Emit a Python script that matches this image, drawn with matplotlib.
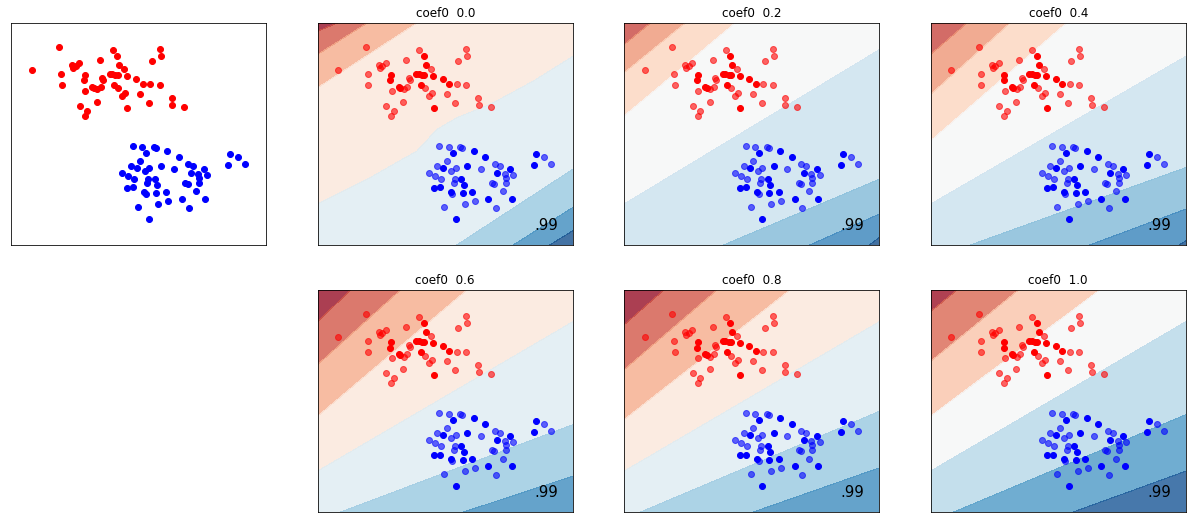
import numpy as np
import matplotlib.pyplot as plt

# point positions (axes units, x 0..770, y 0..668)
red_x = [145, 63, 152, 153, 185, 188, 195, 205, 222, 220, 224, 207, 230, 222, 245, 250,
         260, 258, 268, 270, 275, 278, 307, 320, 297, 305, 315, 322, 311, 323, 327, 341,
         349, 336, 345, 351, 377, 397, 389, 420, 415, 424, 448, 452, 449, 485, 486, 522]
red_y = [595, 526, 516, 481, 543, 533, 538, 548, 513, 495, 462, 418, 403, 388, 475, 473,
         468, 431, 556, 476, 503, 496, 586, 568, 515, 516, 513, 511, 482, 471, 543, 530,
         510, 448, 457, 412, 499, 485, 454, 483, 428, 555, 591, 569, 482, 442, 422, 416]
red_solid = [0, 0, 0, 0, 0, 0, 0, 0, 1, 1, 0, 0, 0, 0, 1, 1,
             0, 0, 0, 0, 0, 0, 0, 1, 1, 1, 1, 1, 1, 0, 1, 0,
             1, 0, 0, 1, 1, 1, 0, 0, 0, 0, 0, 0, 0, 0, 0, 0]

blue_x = [367, 396, 430, 436, 408, 471, 506, 390, 361, 379, 403, 417, 452, 492, 535, 549,
          542, 581, 564, 568, 590, 567, 336, 354, 372, 414, 410, 433, 441, 351, 368, 401,
          406, 438, 467, 526, 533, 514, 474, 444, 382, 537, 558, 585, 416, 660, 684, 654, 705]
blue_y = [297, 296, 296, 292, 276, 284, 264, 254, 238, 231, 223, 231, 237, 228, 244, 238,
          216, 230, 213, 201, 211, 186, 218, 208, 198, 198, 186, 198, 182, 171, 173, 160,
          154, 156, 160, 186, 183, 138, 133, 123, 115, 112, 161, 139, 78, 273, 265, 242, 244]
blue_solid = [0, 0, 0, 0, 1, 1, 1, 0, 0, 1, 0, 0, 1, 0, 0, 0,
              1, 1, 0, 0, 0, 0, 0, 0, 0, 0, 0, 1, 1, 1, 1, 1,
              0, 1, 1, 0, 0, 1, 0, 0, 0, 0, 0, 1, 1, 1, 0, 1, 0]

coef0_values = [0.0, 0.2, 0.4, 0.6, 0.8, 1.0]
scores = [0.99, 0.99, 0.99, 0.99, 0.99, 0.99]

# band edges of the decision function, read per panel (lowest level first)
band_range = [(-4, 4), (-4.5, 4.5), (-4.5, 4.5), (-4, 4), (-4, 4), (-3.5, 3.5)]
band_edges = [
    [[(0, 643), (60, 668)], [(0, 573), (150, 668)], [(0, 473), (300, 668)],
     [(0, 123), (150, 198), (300, 283), (360, 348), (420, 383), (520, 423), (650, 493), (770, 568)],
     [(420, 0), (770, 228)], [(590, 0), (770, 113)], [(700, 0), (770, 43)]],
    [[(0, 603), (80, 668)], [(0, 518), (185, 668)], [(0, 388), (335, 668)],
     [(0, 123), (770, 588)], [(300, 0), (770, 198)], [(560, 0), (770, 93)], [(740, 0), (770, 23)]],
    [[(0, 573), (110, 668)], [(0, 453), (240, 668)], [(0, 313), (410, 668)],
     [(0, 123), (770, 568)], [(120, 0), (770, 233)], [(480, 0), (770, 108)], [(750, 0), (770, 13)]],
    [[(0, 573), (100, 668)], [(0, 443), (250, 668)], [(0, 288), (450, 668)],
     [(0, 123), (770, 573)], [(70, 0), (770, 263)], [(440, 0), (770, 108)]],
    [[(0, 563), (120, 668)], [(0, 428), (280, 668)], [(0, 278), (500, 668)],
     [(0, 123), (770, 573)], [(50, 0), (770, 303)], [(390, 0), (770, 133)]],
    [[(0, 603), (80, 668)], [(0, 453), (265, 668)], [(0, 288), (510, 668)],
     [(0, 123), (770, 573)], [(70, 0), (770, 293)], [(430, 0), (770, 123)]],
]
first_edge_level = [-3, -2.5, -2.5, -3, -3, -2.5]

XMAX, YMAX = 770, 668


def side(line, x, y):
    # positive on the lower right side of an edge
    line = np.array(line, dtype=float)
    if len(line) == 2:
        (x0, y0), (x1, y1) = line
        return ((x - x0) * (y1 - y0) - (y - y0) * (x1 - x0)) / np.hypot(x1 - x0, y1 - y0)
    return np.interp(x, line[:, 0], line[:, 1]) - y


def band_field(edges, first_level, x, y):
    z = np.full_like(x, first_level - 0.5)
    for line in edges:
        z += np.clip(0.5 + side(line, x, y) / 2.0, 0, 1)
    return z


red_x, red_y, red_solid = np.array(red_x), np.array(red_y), np.array(red_solid, bool)
blue_x, blue_y, blue_solid = np.array(blue_x), np.array(blue_y), np.array(blue_solid, bool)

fig, axes = plt.subplots(2, 4, figsize=(1196 / 72, 523 / 72), dpi=72)
plt.subplots_adjust(left=0.0092, right=0.9916, top=0.956, bottom=0.021,
                    wspace=0.2, hspace=0.203)

ax = axes[0, 0]
ax.scatter(red_x, red_y, c='#FF0000')
ax.scatter(blue_x, blue_y, c='#0000FF')
axes[1, 0].axis('off')

xx, yy = np.meshgrid(np.linspace(0, XMAX, 771), np.linspace(0, YMAX, 669))
panels = [axes[0, 1], axes[0, 2], axes[0, 3], axes[1, 1], axes[1, 2], axes[1, 3]]
for i, ax in enumerate(panels):
    lo, hi = band_range[i]
    zz = band_field(band_edges[i], first_edge_level[i], xx, yy)
    ax.contourf(xx, yy, zz, levels=np.arange(lo, hi + 0.5, 1.0), cmap=plt.cm.RdBu,
                vmin=lo, vmax=hi, alpha=0.8)
    for px, py, solid, col in [(red_x, red_y, red_solid, '#FF0000'),
                               (blue_x, blue_y, blue_solid, '#0000FF')]:
        ax.scatter(px[~solid], py[~solid], c=col, alpha=0.6)
        ax.scatter(px[solid], py[solid], c=col)
    ax.set_title('coef0  %.1f' % coef0_values[i])
    ax.text(XMAX - 45, 45, ('%.2f' % scores[i]).lstrip('0'), size=15,
            horizontalalignment='right')

for ax in axes.flat:
    ax.set_xlim(0, XMAX)
    ax.set_ylim(0, YMAX)
    ax.set_xticks(())
    ax.set_yticks(())

plt.savefig('out.png', dpi=72)
